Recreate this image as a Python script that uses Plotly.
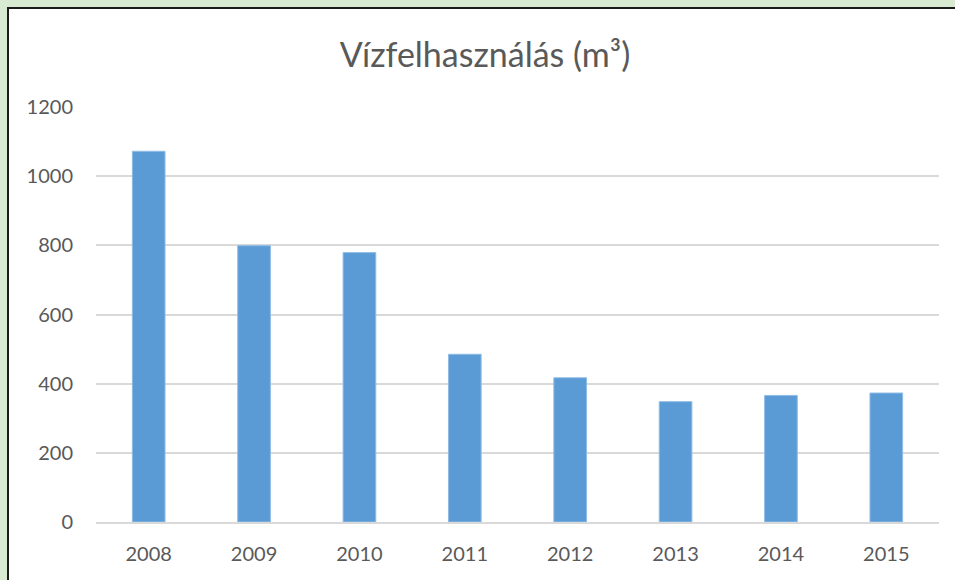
import plotly.graph_objects as go

years = ["2008", "2009", "2010", "2011", "2012", "2013", "2014", "2015"]
usage = [1072, 799, 779, 485, 417, 348, 366, 373]
y_ticks = [0, 200, 400, 600, 800, 1000, 1200]

W, H = 955, 580
L, R, T, B = 96, 16, 107, 58
pw, ph = W - L - R, H - T - B

def px_x(x):
    return (x - L) / pw

def px_y(y):
    return (H - B - y) / ph

fig = go.Figure()
fig.add_trace(go.Bar(x=years, y=usage,
                     marker=dict(color="#5b9bd5", line=dict(color="#8fbce6", width=1)),
                     width=0.31))

# white chart area with dark left/top frame (right/bottom edges lie outside the window)
fig.add_shape(type="rect", xref="paper", yref="paper",
              x0=px_x(8), x1=px_x(W + 5), y0=px_y(H + 5), y1=px_y(8),
              fillcolor="white", line=dict(width=0), layer="below")
fig.add_shape(type="line", xref="paper", yref="paper",
              x0=px_x(8), x1=px_x(8), y0=px_y(H + 5), y1=px_y(7),
              line=dict(color="#1a1a1a", width=2), layer="below")
fig.add_shape(type="line", xref="paper", yref="paper",
              x0=px_x(7), x1=px_x(W + 5), y0=px_y(8), y1=px_y(8),
              line=dict(color="#1a1a1a", width=2), layer="below")

fig.update_layout(
    width=W, height=H,
    margin=dict(l=L, r=R, t=T, b=B, pad=0),
    paper_bgcolor="#d9ead3",
    plot_bgcolor="rgba(0,0,0,0)",
    font=dict(family="Lato", color="#595959", size=20),
    title=dict(text="Vízfelhasználás (m³)", x=485 / W, xanchor="center",
               y=1 - 55 / H, yanchor="middle",
               font=dict(size=34, color="#595959", family="Lato")),
    showlegend=False,
    bargap=0.69,
)
fig.update_xaxes(showgrid=False, showline=True, linecolor="#d9d9d9", linewidth=1.5,
                 ticks="outside", ticklen=13, tickcolor="rgba(0,0,0,0)",
                 tickfont=dict(size=20, color="#595959"))
fig.update_yaxes(range=[0, 1200], tickvals=y_ticks, showgrid=True, gridcolor="#d9d9d9", gridwidth=1.5,
                 zeroline=False, ticks="outside", ticklen=18, tickcolor="rgba(0,0,0,0)",
                 tickfont=dict(size=20, color="#595959"))

fig.write_html("out.html", config={"displayModeBar": False},
               post_script="document.body.style.margin='0';document.body.style.overflow='hidden';")
